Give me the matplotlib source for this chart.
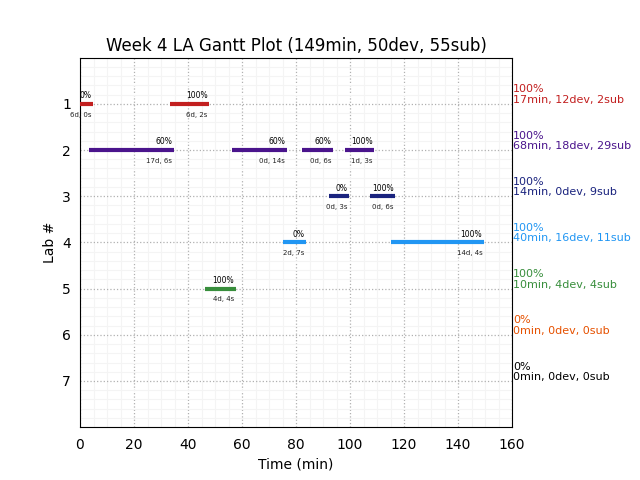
import matplotlib
matplotlib.use("Agg")
import matplotlib.pyplot as plt

labs = [1, 2, 3, 4, 5, 6, 7]
lab_colors = ['#c21f1f', '#4a148c', '#1a237e', '#2196f3', '#388e3c', '#e65100', '#000000']
# segments per lab: (start, end, percent label, duration label)
seg_lab = [1, 1, 2, 2, 2, 2, 3, 3, 4, 4, 5]
seg_start = [0.0, 33.3, 3.3, 56.2, 82.1, 98.1, 92.2, 107.4, 75.1, 115.2, 46.3]
seg_end = [4.7, 47.8, 34.8, 76.5, 93.6, 108.9, 99.6, 116.7, 83.7, 149.6, 57.7]
seg_pct = ['0%', '100%', '60%', '60%', '60%', '100%', '0%', '100%', '0%', '100%', '100%']
seg_dur = ['6d, 0s', '6d, 2s', '17d, 6s', '0d, 14s', '0d, 6s', '1d, 3s', '0d, 3s', '0d, 6s',
           '2d, 7s', '14d, 4s', '4d, 4s']
lab_pct = ['100%', '100%', '100%', '100%', '100%', '0%', '0%']
lab_stats = ['17min, 12dev, 2sub', '68min, 18dev, 29sub', '14min, 0dev, 9sub',
             '40min, 16dev, 11sub', '10min, 4dev, 4sub', '0min, 0dev, 0sub', '0min, 0dev, 0sub']
x_ticks = [0, 20, 40, 60, 80, 100, 120, 140, 160]

fig = plt.figure(figsize=(6.4, 4.8), dpi=100)
ax = fig.add_axes([0.125, 0.11, 0.675, 0.77])

for lab, s, e, p, d in zip(seg_lab, seg_start, seg_end, seg_pct, seg_dur):
    c = lab_colors[lab - 1]
    ax.hlines(lab, s, e, colors=c, linewidth=3.0, zorder=3)
    ax.text(e - 0.6, lab - 0.08, p, ha='right', va='bottom', fontsize=5.5, zorder=4)
    ax.text(e - 0.6, lab + 0.17, d, ha='right', va='top', fontsize=5, color='#222222', zorder=4)

for lab, c, p, st in zip(labs, lab_colors, lab_pct, lab_stats):
    ax.text(1.003, lab - 0.2, p + '\n' + st, color=c, fontsize=8, ha='left', va='center',
            transform=ax.get_yaxis_transform(), linespacing=1.05)

ax.set_xlim(0, 160)
ax.set_ylim(8, 0)
ax.set_xticks(x_ticks)
ax.set_yticks(labs)
ax.minorticks_on()
ax.tick_params(which='both', length=0)
ax.tick_params(axis='x', pad=8)
ax.tick_params(axis='y', pad=6.5)
ax.grid(which='major', color='#b0b0b0', linestyle=':', linewidth=0.9)
ax.grid(which='minor', color='#f4f4f4', linestyle='-', linewidth=0.8)
ax.set_axisbelow(True)
ax.set_xlabel('Time (min)')
ax.set_ylabel('Lab #')
ax.set_title('Week 4 LA Gantt Plot (149min, 50dev, 55sub)', fontsize=12, pad=4.5)

fig.savefig('out.png', dpi=100)
